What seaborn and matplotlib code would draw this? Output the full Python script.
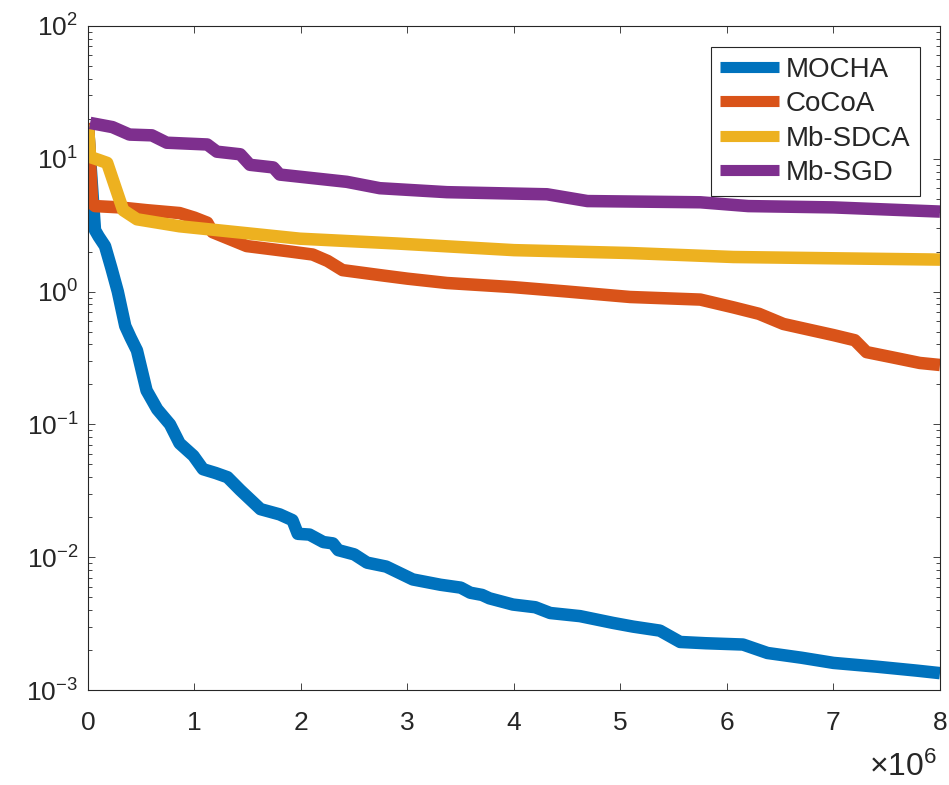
import numpy as np
import pandas as pd
import matplotlib
matplotlib.use('Agg')
import matplotlib.pyplot as plt
import matplotlib.ticker as mticker
import seaborn as sns

methods = ['MOCHA', 'CoCoA', 'Mb-SDCA', 'Mb-SGD']
colors = ['#0072BD', '#D95319', '#EDB120', '#7E2F8E']

# x in millions of iterations, y = primal sub-optimality
mocha_x = [0, 0.02, 0.066, 0.10, 0.16, 0.22, 0.28, 0.35, 0.40, 0.46, 0.55, 0.65, 0.77, 0.86,
           0.99, 1.08, 1.20, 1.31, 1.43, 1.62, 1.80, 1.92, 1.97, 2.08, 2.21, 2.30, 2.35, 2.50,
           2.62, 2.80, 3.05, 3.31, 3.50, 3.59, 3.70, 3.77, 3.99, 4.20, 4.34, 4.62, 4.93, 5.12,
           5.37, 5.56, 5.80, 6.15, 6.38, 6.70, 7.00, 7.40, 7.78, 8.00]
mocha_y = [18, 10, 2.9, 2.6, 2.2, 1.5, 1.0, 0.55, 0.45, 0.36, 0.18, 0.13, 0.10, 0.072,
           0.058, 0.046, 0.043, 0.040, 0.032, 0.023, 0.021, 0.019, 0.015, 0.0148, 0.013, 0.0127, 0.0113, 0.0105,
           0.0091, 0.0085, 0.0068, 0.0062, 0.0059, 0.0054, 0.0052, 0.0049, 0.0044, 0.0042, 0.0038, 0.0036, 0.0032, 0.0030,
           0.0028, 0.0023, 0.00225, 0.0022, 0.0019, 0.00175, 0.0016, 0.0015, 0.0014, 0.00134]

cocoa_x = [0, 0.04, 0.066, 0.30, 0.55, 0.86, 1.00, 1.12, 1.17, 1.49, 1.90, 2.11, 2.25, 2.39,
           2.74, 3.00, 3.37, 3.99, 4.50, 5.09, 5.75, 6.06, 6.30, 6.53, 6.80, 7.00, 7.20, 7.31,
           7.55, 7.81, 8.00]
cocoa_y = [18.6, 4.6, 4.4, 4.3, 4.1, 3.9, 3.6, 3.3, 2.8, 2.2, 2.0, 1.9, 1.7, 1.45,
           1.33, 1.25, 1.16, 1.08, 1.0, 0.91, 0.87, 0.76, 0.68, 0.57, 0.51, 0.47, 0.43, 0.35,
           0.32, 0.29, 0.28]

sdca_x = [0, 0.02, 0.10, 0.18, 0.33, 0.46, 0.86, 1.49, 1.99, 2.90, 4.00, 5.09, 6.06, 7.00, 8.00]
sdca_y = [18.0, 10.3, 9.8, 9.3, 4.1, 3.5, 3.1, 2.75, 2.5, 2.3, 2.05, 1.95, 1.82, 1.78, 1.74]

sgd_x = [0.02, 0.23, 0.39, 0.60, 0.74, 1.12, 1.21, 1.43, 1.52, 1.74, 1.80, 2.43, 2.74,
         3.37, 4.31, 4.69, 5.75, 6.20, 7.00, 8.00]
sgd_y = [18.6, 17.3, 15.2, 15.0, 13.2, 12.8, 11.3, 10.8, 9.0, 8.6, 7.6, 6.7, 6.0,
         5.6, 5.4, 4.8, 4.7, 4.4, 4.3, 4.0]

frames = []
for name, xs, ys in [('MOCHA', mocha_x, mocha_y), ('CoCoA', cocoa_x, cocoa_y),
                     ('Mb-SDCA', sdca_x, sdca_y), ('Mb-SGD', sgd_x, sgd_y)]:
    frames.append(pd.DataFrame({'x': np.array(xs) * 1e6, 'loss': ys, 'method': name}))
df = pd.concat(frames, ignore_index=True)

sns.set_theme(style='ticks')
plt.rcParams['font.family'] = ['Liberation Sans', 'DejaVu Sans']
plt.rcParams['mathtext.fontset'] = 'custom'
plt.rcParams['mathtext.rm'] = 'Liberation Sans'
plt.rcParams['mathtext.it'] = 'Liberation Sans:italic'
plt.rcParams['mathtext.bf'] = 'Liberation Sans:bold'

dark = '#262626'
fig = plt.figure(figsize=(9.49, 7.85), dpi=100)
ax = fig.add_axes([0.0927, 0.121, 0.8978, 0.846])

sns.lineplot(data=df, x='x', y='loss', hue='method', hue_order=methods, palette=colors,
             linewidth=9, estimator=None, sort=False, solid_capstyle='butt', ax=ax)

ax.set_yscale('log')
ax.set_ylim(1e-3, 1e2)
ax.set_xlim(0, 8e6)
ax.set_xlabel('')
ax.set_ylabel('')

ax.xaxis.set_major_locator(mticker.MultipleLocator(1e6))
ax.xaxis.set_major_formatter(mticker.FuncFormatter(lambda v, p: f'{v / 1e6:g}'))
ax.yaxis.set_major_locator(mticker.LogLocator(base=10, numticks=10))
ax.yaxis.set_minor_locator(mticker.LogLocator(base=10, subs=np.arange(2, 10), numticks=20))
ax.yaxis.set_minor_formatter(mticker.NullFormatter())

for s in ax.spines.values():
    s.set_visible(True)
    s.set_color(dark)
    s.set_linewidth(0.8)
ax.tick_params(which='both', direction='in', top=True, right=True, colors=dark,
               labelcolor=dark, width=0.6)
ax.tick_params(which='major', length=5, labelsize=19)
ax.tick_params(axis='x', which='major', pad=15)
ax.tick_params(axis='y', which='major', pad=7)
ax.tick_params(which='minor', length=3)

fig.text(937 / 949, 1 - 776 / 785, r'$\times10^{6}$', ha='right', va='baseline',
         fontsize=23, color=dark)

leg = ax.legend(loc='upper right', bbox_to_anchor=(0.9765, 0.968), borderaxespad=0,
                fancybox=False, edgecolor=dark, framealpha=1, fontsize=20,
                handlelength=2.1, handletextpad=0.25, labelspacing=0.3, borderpad=0.35)
leg.get_frame().set_linewidth(0.8)
for h in leg.get_lines():
    h.set_linewidth(8)
    h.set_solid_capstyle('butt')

fig.savefig('out.png', dpi=100)
